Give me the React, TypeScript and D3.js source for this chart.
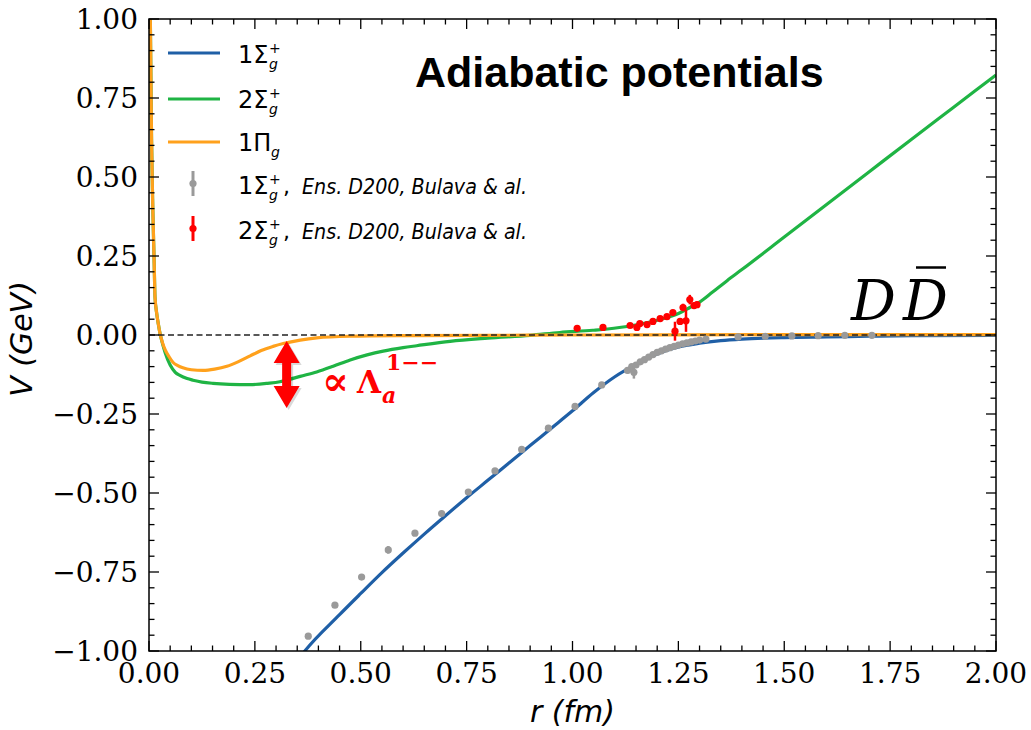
import React from 'react';
import * as d3 from 'd3';

// ---------- data ----------
const xTickValues = [0, 0.25, 0.5, 0.75, 1.0, 1.25, 1.5, 1.75, 2.0];
const yTickValues = [-1, -0.75, -0.5, -0.25, 0, 0.25, 0.5, 0.75, 1.0];

// 1Σg+ (blue)
const blueR = [0.34, 0.368, 0.45, 0.5, 0.55, 0.6, 0.65, 0.7, 0.75, 0.8, 0.85, 0.9, 0.95, 1.0, 1.05, 1.1, 1.15, 1.2, 1.25, 1.3, 1.35, 1.4, 1.5, 1.6, 1.7, 1.8, 2.0];
const blueV = [-1.05, -1.0, -0.885, -0.818, -0.752, -0.69, -0.63, -0.572, -0.515, -0.46, -0.405, -0.35, -0.295, -0.24, -0.182, -0.132, -0.093, -0.06, -0.038, -0.026, -0.018, -0.013, -0.008, -0.006, -0.004, -0.002, -0.001];

// 2Σg+ (green)
const greenR = [0.003, 0.006, 0.009, 0.012, 0.0142, 0.018, 0.022, 0.026, 0.032, 0.038, 0.05, 0.062, 0.073, 0.09, 0.104, 0.125, 0.151, 0.19, 0.239, 0.28, 0.309, 0.33, 0.357, 0.396, 0.435, 0.475, 0.515, 0.553, 0.6, 0.632, 0.711, 0.8, 0.9, 0.97, 1.048, 1.129, 1.207, 1.25, 1.277, 1.3, 1.33, 1.365, 1.4, 1.5, 1.6, 1.7, 1.8, 1.9, 2.0];
const greenV = [1.02, 0.62, 0.4, 0.24, 0.12, 0.07, 0.035, 0.005, -0.028, -0.055, -0.095, -0.118, -0.128, -0.138, -0.143, -0.149, -0.153, -0.156, -0.157, -0.153, -0.148, -0.141, -0.131, -0.117, -0.099, -0.079, -0.063, -0.051, -0.04, -0.034, -0.02, -0.01, -0.001, 0.008, 0.015, 0.027, 0.049, 0.068, 0.087, 0.104, 0.135, 0.172, 0.207, 0.31, 0.413, 0.516, 0.619, 0.721, 0.823];

// 1Πg (orange)
const orangeR = [0.003, 0.006, 0.009, 0.012, 0.0142, 0.018, 0.022, 0.026, 0.032, 0.038, 0.047, 0.057, 0.068, 0.08, 0.1, 0.128, 0.155, 0.184, 0.21, 0.239, 0.265, 0.293, 0.317, 0.357, 0.396, 0.475, 0.6, 0.8, 1.0, 1.5, 2.0];
const orangeV = [1.02, 0.62, 0.4, 0.24, 0.12, 0.07, 0.035, 0.005, -0.025, -0.046, -0.068, -0.087, -0.097, -0.104, -0.11, -0.112, -0.108, -0.099, -0.085, -0.066, -0.049, -0.036, -0.027, -0.016, -0.009, -0.004, -0.002, -0.001, 0.0, 0.001, 0.001];

// lattice data, 1Σg+ (gray)
const grayR = [0.376, 0.439, 0.502, 0.565, 0.628, 0.691, 0.754, 0.817, 0.88, 0.943, 1.006, 1.069, 1.13, 1.14, 1.145, 1.15, 1.16, 1.17, 1.18, 1.19, 1.2, 1.21, 1.22, 1.23, 1.24, 1.25, 1.26, 1.27, 1.28, 1.29, 1.3, 1.315, 1.391, 1.455, 1.518, 1.58, 1.643, 1.707];
const grayV = [-0.953, -0.855, -0.766, -0.68, -0.627, -0.565, -0.497, -0.43, -0.362, -0.295, -0.226, -0.158, -0.112, -0.1, -0.118, -0.095, -0.085, -0.078, -0.07, -0.062, -0.055, -0.05, -0.045, -0.04, -0.036, -0.032, -0.028, -0.025, -0.022, -0.019, -0.016, -0.013, -0.006, -0.004, -0.003, -0.002, -0.001, -0.001];
const grayE = [0.004, 0.004, 0.006, 0.012, 0.005, 0.004, 0.004, 0.004, 0.004, 0.004, 0.004, 0.004, 0.01, 0.008, 0.02, 0.008, 0.008, 0.006, 0.006, 0.006, 0.006, 0.005, 0.005, 0.005, 0.005, 0.004, 0.004, 0.004, 0.004, 0.004, 0.004, 0.004, 0.002, 0.002, 0.002, 0.002, 0.002, 0.002];

// lattice data, 2Σg+ (red)
const redR = [1.011, 1.072, 1.136, 1.152, 1.159, 1.176, 1.19, 1.207, 1.223, 1.237, 1.242, 1.254, 1.261, 1.268, 1.277, 1.287, 1.294];
const redV = [0.021, 0.024, 0.03, 0.024, 0.036, 0.033, 0.043, 0.052, 0.058, 0.071, 0.012, 0.043, 0.087, 0.045, 0.112, 0.093, 0.096];
const redE = [0.004, 0.004, 0.005, 0.005, 0.005, 0.005, 0.006, 0.006, 0.007, 0.008, 0.03, 0.01, 0.012, 0.035, 0.015, 0.01, 0.01];

// ---------- styling / layout ----------
const W = 1031;
const H = 730;
const LEFT = 149;
const RIGHT = 996;
const TOP = 19;
const BOTTOM = 651;

const BLUE = '#1f5fa6';
const GREEN = '#1fb444';
const ORANGE = '#ffa11c';
const RED = '#ff0000';
const GRAY = '#9a9a9a';

const x = d3.scaleLinear().domain([0, 2]).range([LEFT, RIGHT]);
const y = d3.scaleLinear().domain([-1, 1]).range([BOTTOM, TOP]);

const fmt = (v: number) => (v < 0 ? '\u2212' : '') + Math.abs(v).toFixed(2);

const lineGen = d3
  .line<[number, number]>()
  .x((d) => x(d[0]))
  .y((d) => y(d[1]))
  .curve(d3.curveMonotoneX);

const zipPts = (r: number[], v: number[]) => r.map((ri, i) => [ri, v[i]] as [number, number]);

const minorX = d3.range(0, 2.0001, 0.05).filter((v) => Math.abs(v / 0.25 - Math.round(v / 0.25)) > 1e-6);
const minorY = d3.range(-1, 1.0001, 0.05).filter((v) => Math.abs(v / 0.25 - Math.round(v / 0.25)) > 1e-6);

function SigmaLabel({ xs, yb, lead, sym, sup }: { xs: number; yb: number; lead: string; sym: string; sup: boolean }) {
  const off = sym === 'Σ' ? 31 : 33;
  return (
    <g fontFamily="DejaVu Sans" fill="#000">
      <text x={xs} y={yb} fontSize={24}>{lead}{sym}</text>
      {sup && <text x={xs + off} y={yb - 10} fontSize={14}>+</text>}
      <text x={xs + off} y={yb + 6} fontSize={14} fontStyle="italic">g</text>
    </g>
  );
}

export default function App() {
  const arrowX = x(0.325);
  const aTop = y(-0.019);
  const aBot = y(-0.231);
  const headL = 22;
  const headW = 13;
  const shaftW = 4.5;
  const arrowPts = [
    [arrowX, aTop],
    [arrowX + headW, aTop + headL],
    [arrowX + shaftW, aTop + headL],
    [arrowX + shaftW, aBot - headL],
    [arrowX + headW, aBot - headL],
    [arrowX, aBot],
    [arrowX - headW, aBot - headL],
    [arrowX - shaftW, aBot - headL],
    [arrowX - shaftW, aTop + headL],
    [arrowX - headW, aTop + headL],
  ];
  const arrowStr = arrowPts.map((p) => p.join(',')).join(' ');
  const shadowStr = arrowPts.map((p) => [p[0] + 2, p[1] + 2].join(',')).join(' ');

  return (
    <svg width={W} height={H} style={{ position: 'absolute', left: 0, top: 0, background: '#fff' }}>
      <defs>
        <clipPath id="plotclip">
          <rect x={LEFT} y={TOP} width={RIGHT - LEFT} height={BOTTOM - TOP} />
        </clipPath>
      </defs>
      <rect x={0} y={0} width={W} height={H} fill="#fff" />

      <g clipPath="url(#plotclip)">
        <path d={lineGen(zipPts(blueR, blueV)) || ''} fill="none" stroke={BLUE} strokeWidth={3.2} />
        <path d={lineGen(zipPts(greenR, greenV)) || ''} fill="none" stroke={GREEN} strokeWidth={3.2} />
        <path d={lineGen(zipPts(orangeR, orangeV)) || ''} fill="none" stroke={ORANGE} strokeWidth={3.2} />
        <line x1={LEFT} x2={RIGHT} y1={y(0)} y2={y(0)} stroke="#222" strokeWidth={1.4} strokeDasharray="6,3.5" />

        {grayR.map((r, i) => (
          <g key={'g' + i}>
            <line x1={x(r)} x2={x(r)} y1={y(grayV[i] - grayE[i])} y2={y(grayV[i] + grayE[i])} stroke={GRAY} strokeWidth={2.5} />
            <circle cx={x(r)} cy={y(grayV[i])} r={3.6} fill={GRAY} />
          </g>
        ))}
        {redR.map((r, i) => (
          <g key={'r' + i}>
            <line x1={x(r)} x2={x(r)} y1={y(redV[i] - redE[i])} y2={y(redV[i] + redE[i])} stroke={RED} strokeWidth={2.5} />
            <circle cx={x(r)} cy={y(redV[i])} r={3.6} fill={RED} />
          </g>
        ))}
      </g>

      {/* frame */}
      <rect x={LEFT} y={TOP} width={RIGHT - LEFT} height={BOTTOM - TOP} fill="none" stroke="#000" strokeWidth={1.5} />

      {/* ticks */}
      <g stroke="#000" strokeWidth={1.3}>
        {xTickValues.map((v) => (
          <g key={'xt' + v}>
            <line x1={x(v)} x2={x(v)} y1={BOTTOM} y2={BOTTOM - 10} />
            <line x1={x(v)} x2={x(v)} y1={TOP} y2={TOP + 10} />
          </g>
        ))}
        {minorX.map((v) => (
          <g key={'xm' + v}>
            <line x1={x(v)} x2={x(v)} y1={BOTTOM} y2={BOTTOM - 5.5} />
            <line x1={x(v)} x2={x(v)} y1={TOP} y2={TOP + 5.5} />
          </g>
        ))}
        {yTickValues.map((v) => (
          <g key={'yt' + v}>
            <line x1={LEFT} x2={LEFT + 10} y1={y(v)} y2={y(v)} />
            <line x1={RIGHT} x2={RIGHT - 10} y1={y(v)} y2={y(v)} />
          </g>
        ))}
        {minorY.map((v) => (
          <g key={'ym' + v}>
            <line x1={LEFT} x2={LEFT + 5.5} y1={y(v)} y2={y(v)} />
            <line x1={RIGHT} x2={RIGHT - 5.5} y1={y(v)} y2={y(v)} />
          </g>
        ))}
      </g>

      {/* tick labels */}
      <g fontFamily="DejaVu Serif" fontSize={28} fill="#000">
        {xTickValues.map((v) => (
          <text key={'xl' + v} x={x(v)} y={683} textAnchor="middle">{fmt(v)}</text>
        ))}
        {yTickValues.map((v) => (
          <text key={'yl' + v} x={138} y={y(v) + 10} textAnchor="end">{fmt(v)}</text>
        ))}
      </g>

      {/* axis titles */}
      <text x={(LEFT + RIGHT) / 2} y={722} textAnchor="middle" fontFamily="DejaVu Sans" fontStyle="italic" fontSize={30}>r (fm)</text>
      <text transform={`translate(32, ${(TOP + BOTTOM) / 2 + 4}) rotate(-90)`} textAnchor="middle" fontFamily="DejaVu Sans" fontStyle="italic" fontSize={30}>V (GeV)</text>

      {/* title */}
      <text x={415} y={87} fontFamily="Liberation Sans" fontWeight="bold" fontSize={43}>Adiabatic potentials</text>

      {/* legend */}
      <line x1={168} x2={220} y1={53} y2={53} stroke={BLUE} strokeWidth={3.2} />
      <SigmaLabel xs={238} yb={63} lead="1" sym="Σ" sup={true} />
      <line x1={168} x2={220} y1={99} y2={99} stroke={GREEN} strokeWidth={3.2} />
      <SigmaLabel xs={238} yb={108} lead="2" sym="Σ" sup={true} />
      <line x1={168} x2={220} y1={142} y2={142} stroke={ORANGE} strokeWidth={3.2} />
      <SigmaLabel xs={238} yb={151} lead="1" sym="Π" sup={false} />

      <line x1={193} x2={193} y1={171} y2={196} stroke={GRAY} strokeWidth={3} />
      <circle cx={193} cy={183.5} r={3.6} fill={GRAY} />
      <SigmaLabel xs={238} yb={194} lead="1" sym="Σ" sup={true} />
      <text x={283} y={194} fontFamily="DejaVu Sans" fontSize={22}>,</text>
      <text x={302} y={194} fontFamily="DejaVu Sans" fontStyle="italic" fontSize={21} textLength={225} lengthAdjust="spacingAndGlyphs">Ens. D200, Bulava &amp; al.</text>

      <line x1={193} x2={193} y1={216} y2={241} stroke={RED} strokeWidth={3} />
      <circle cx={193} cy={228.5} r={3.6} fill={RED} />
      <SigmaLabel xs={238} yb={239} lead="2" sym="Σ" sup={true} />
      <text x={283} y={239} fontFamily="DejaVu Sans" fontSize={22}>,</text>
      <text x={302} y={239} fontFamily="DejaVu Sans" fontStyle="italic" fontSize={21} textLength={225} lengthAdjust="spacingAndGlyphs">Ens. D200, Bulava &amp; al.</text>

      {/* D Dbar */}
      <g fontFamily="DejaVu Serif" fontStyle="italic" fontSize={56} fill="#000">
        <text x={851} y={320}>D</text>
        <text x={903} y={320}>D</text>
      </g>
      <line x1={916} x2={946} y1={267.5} y2={267.5} stroke="#000" strokeWidth={2.5} />

      {/* arrow annotation */}
      <polygon points={shadowStr} fill="#000" opacity={0.15} />
      <polygon points={arrowStr} fill={RED} />
      <g fill={RED} fontFamily="DejaVu Serif" fontWeight="bold">
        <text x={322} y={395} fontSize={40}>∝</text>
        <text x={357} y={393} fontSize={31}>Λ</text>
        <text x={382} y={403} fontSize={22} fontStyle="italic">a</text>
        <text x={386} y={370} fontSize={22}>1−−</text>
      </g>
    </svg>
  );
}
